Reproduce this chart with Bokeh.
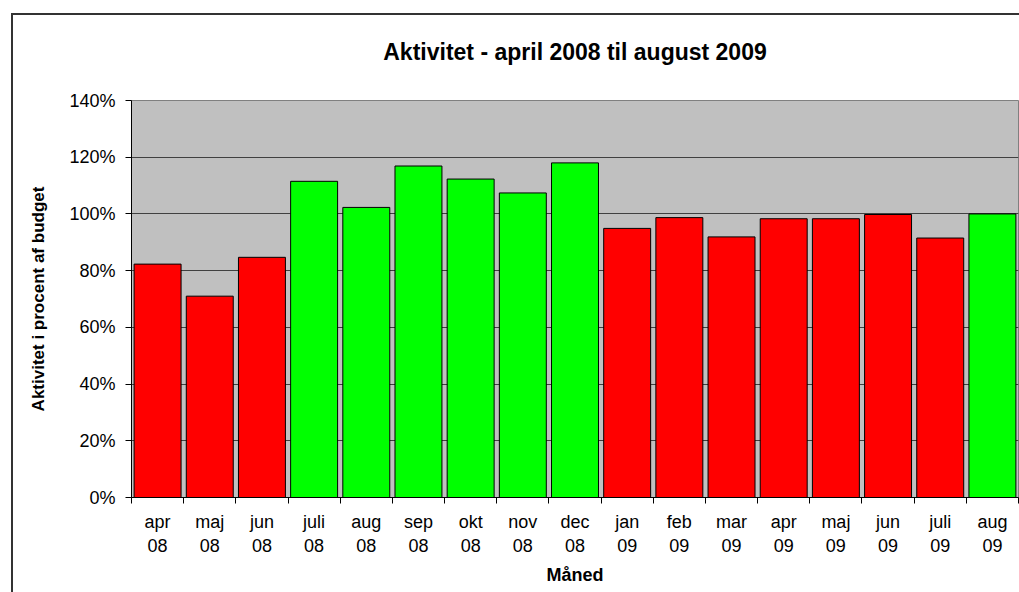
from bokeh.plotting import figure
from bokeh.models import ColumnDataSource, FixedTicker, Range1d, InlineStyleSheet
from bokeh.embed import file_html
from bokeh.resources import INLINE
import numpy as np

months = ["apr", "maj", "jun", "juli", "aug", "sep", "okt", "nov", "dec",
          "jan", "feb", "mar", "apr", "maj", "jun", "juli", "aug"]
years = ["08"] * 9 + ["09"] * 8
values = [82.3, 71.0, 84.7, 111.5, 102.3, 116.9, 112.3, 107.4, 118.0,
          94.9, 98.7, 91.9, 98.3, 98.3, 99.8, 91.5, 100.0]
y_ticks = [0, 20, 40, 60, 80, 100, 120, 140]

n = len(months)
xs = np.arange(n) + 0.5
labels = [f"{m}\n{y}" for m, y in zip(months, years)]
colors = ["#00FF00" if v >= 100 else "#FF0000" for v in values]

src = ColumnDataSource(dict(x=xs, top=values, color=colors))

p = figure(width=1019, height=592, output_backend="svg", toolbar_location=None,
           x_range=Range1d(0, n), y_range=Range1d(0, 140),
           min_border_left=131, min_border_right=1, min_border_top=100, min_border_bottom=95,
           title="Aktivitet - april 2008 til august 2009")

p.background_fill_color = "#C0C0C0"
p.border_fill_color = "white"
p.outline_line_color = "#808080"
p.outline_line_width = 1

p.title.text_font = "Liberation Sans"
p.title.text_font_size = "23px"
p.title.text_font_style = "bold"
p.title.align = "center"
p.title.text_color = "black"
p.title.standoff = 72

p.vbar(x="x", top="top", width=0.9, bottom=0, source=src,
       fill_color="color", line_color="black", line_width=1)

# axes
p.xaxis.ticker = FixedTicker(ticks=list(xs), minor_ticks=list(range(n + 1)))
p.xaxis.major_label_overrides = {float(x): l for x, l in zip(xs, labels)}
p.xaxis.major_tick_line_color = None
p.xaxis.minor_tick_line_color = "black"
p.xaxis.minor_tick_out = 6
p.xaxis.minor_tick_in = 0
p.xaxis.axis_line_color = "black"
p.xaxis.major_label_text_font = "Liberation Sans"
p.xaxis.major_label_text_font_size = "18px"
p.xaxis.major_label_text_color = "black"
p.xaxis.major_label_standoff = 8
p.xaxis.axis_label = "Måned"
p.xaxis.axis_label_text_font = "Liberation Sans"
p.xaxis.axis_label_text_font_size = "18px"
p.xaxis.axis_label_text_font_style = "bold"
p.xaxis.axis_label_text_color = "black"
p.xaxis.axis_label_standoff = 6

p.yaxis.ticker = FixedTicker(ticks=y_ticks, minor_ticks=[])
p.yaxis.major_label_overrides = {t: f"{t}%" for t in y_ticks}
p.yaxis.major_tick_out = 6
p.yaxis.major_tick_in = 0
p.yaxis.major_tick_line_color = "black"
p.yaxis.axis_line_color = "black"
p.yaxis.major_label_text_font = "Liberation Sans"
p.yaxis.major_label_text_font_size = "18px"
p.yaxis.major_label_text_color = "black"
p.yaxis.major_label_standoff = 10
p.yaxis.axis_label = "Aktivitet i procent af budget"
p.yaxis.axis_label_text_font = "Liberation Sans"
p.yaxis.axis_label_text_font_size = "17px"
p.yaxis.axis_label_text_font_style = "bold"
p.yaxis.axis_label_text_color = "black"
p.yaxis.axis_label_standoff = 18

p.xgrid.grid_line_color = None
p.ygrid.ticker = FixedTicker(ticks=[20, 40, 60, 80, 100, 120])
p.ygrid.grid_line_color = "#404040"
p.ygrid.grid_line_width = 1
p.ygrid.level = "underlay"

p.stylesheets = [InlineStyleSheet(css=(
    ":host{position:relative;}"
    ":host::after{content:'';position:absolute;left:11px;top:13px;width:1100px;height:700px;"
    "border-left:2px solid #333;border-top:2px solid #333;pointer-events:none;}"))]

open("out.html", "w").write(file_html(p, INLINE))
